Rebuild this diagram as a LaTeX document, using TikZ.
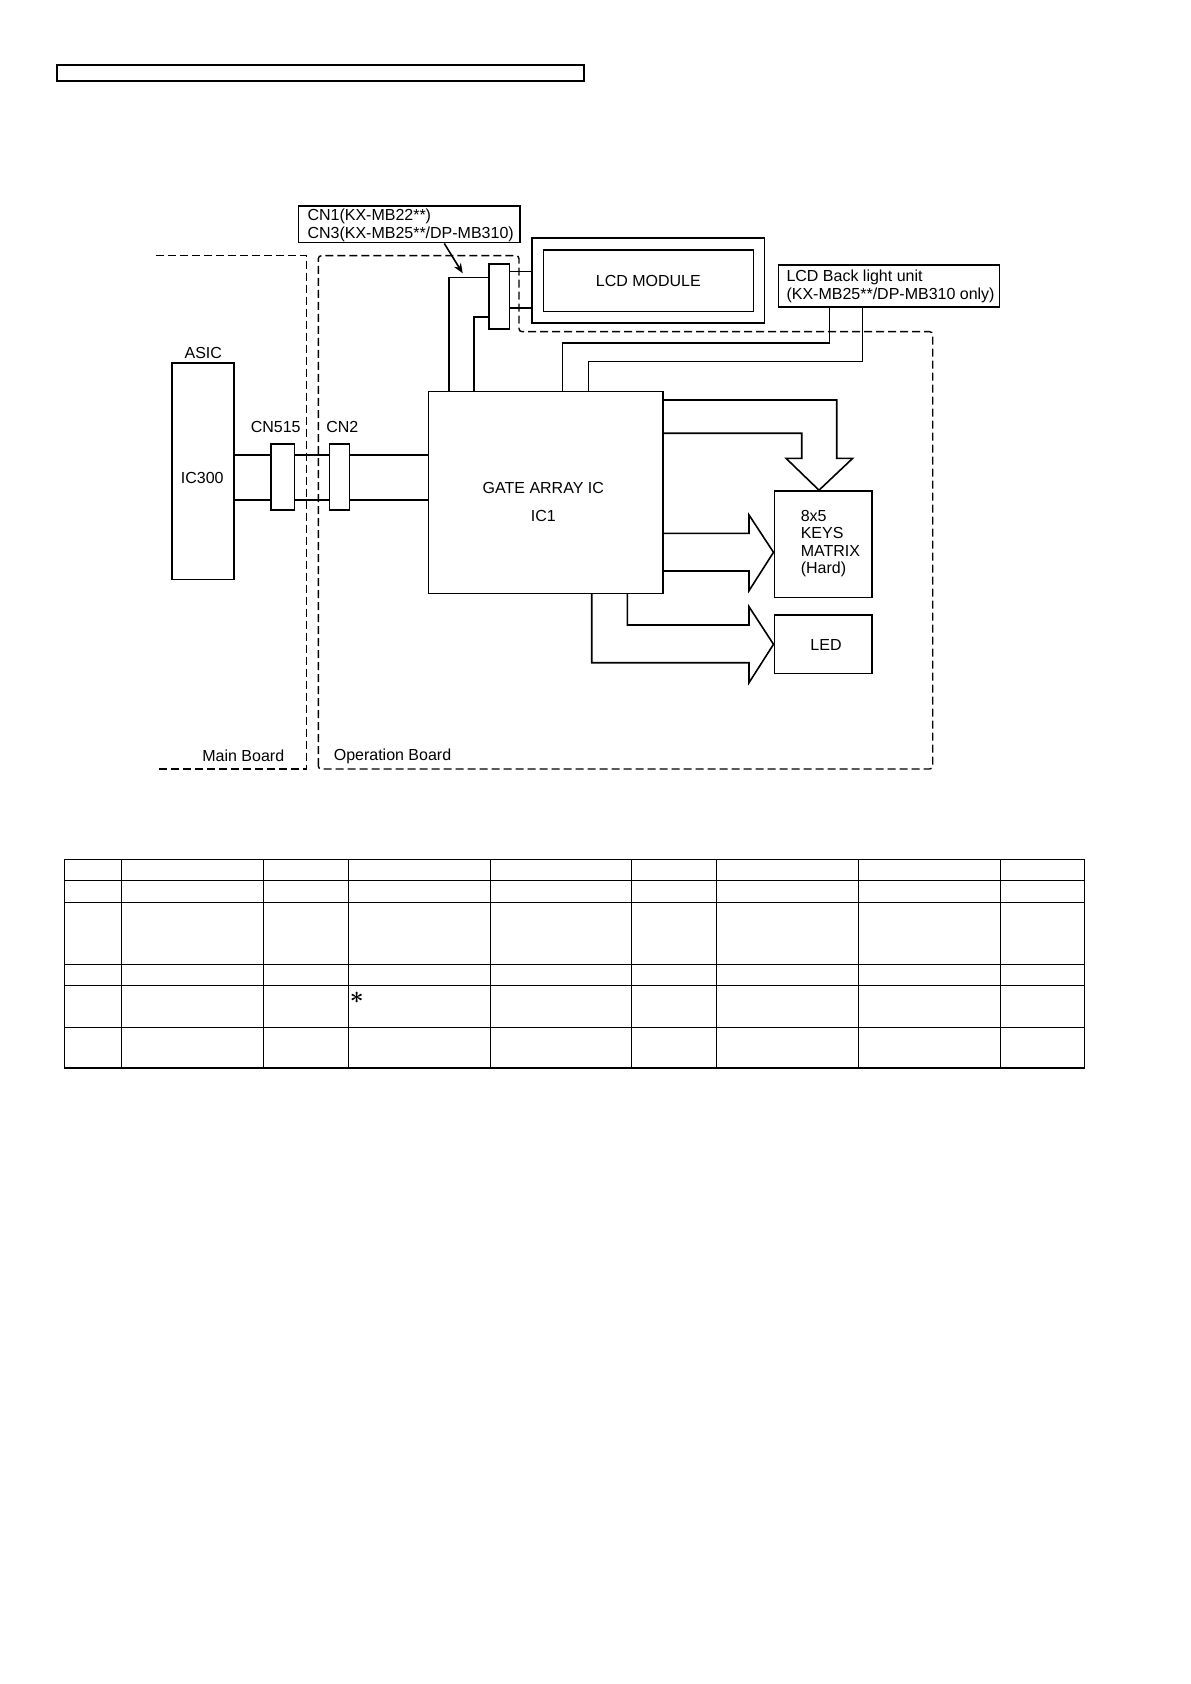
\documentclass[tikz,border=0pt]{standalone}
\usepackage{fontspec}
\setmainfont{Liberation Sans}
\usetikzlibrary{arrows.meta,fit}
\begin{document}
\begin{tikzpicture}[x=0.5pt,y=-0.5pt,line width=0.8pt,
  lbl/.style={font=\fontsize{8}{8.7}\selectfont, inner sep=0pt},
  bx/.style={draw, inner sep=0pt},
  brd/.style={line width=0.7pt, dash pattern=on 4pt off 2pt},
  tbl/.style={line width=0.7pt}]
\useasboundingbox (0,0) rectangle (1190,1684);

\node[bx, fit={(57,65) (584,81)}] (topbar) {};

% boards
\draw[brd] (155.7,255.7) -- (306.7,255.7) -- (306.7,769) -- (155.7,769);
\draw[brd, rounded corners=1.5pt] (318.3,769) -- (318.3,255.7) -- (519,255.7) -- (519,331.7) -- (932.7,331.7) -- (932.7,769) -- cycle;
\node[lbl, anchor=east] (mainlbl) at (285,756) {Main Board};
\node[lbl, anchor=west] (oplbl) at (333,756) {Operation Board};

% ASIC
\node[bx, fit={(171.7,363.3) (234,579.3)}] (asic) {};
\node[lbl] (asictitle) at (203.3,353.3) {ASIC};
\node[lbl] (ic300) at (202.3,477.7) {IC300};

% Gate array
\node[bx, fit={(428.3,391.7) (662.7,593.3)}] (ga) {};
\node[lbl] (gat) at (543.3,488.3) {GATE ARRAY IC};
\node[lbl] (ic1) at (543.3,516) {IC1};

% ASIC to gate array
\draw (asic.east |- 0,455) -- (ga.west |- 0,455);
\draw (asic.east |- 0,500) -- (ga.west |- 0,500);
\node[bx, fill=white, fit={(270.7,444.3) (294.3,510)}] (cn515) {};
\node[bx, fill=white, fit={(329.3,444.3) (349.3,510)}] (cn2) {};
\node[lbl] (cn515l) at (275.7,427.3) {CN515};
\node[lbl] (cn2l) at (342.3,427.3) {CN2};

% CN1/CN3 connector and LCD
\node[bx, fit={(489,264) (509.3,329.3)}] (cn13) {};
\draw (ga.north -| 449,0) |- (cn13.west |- 0,277.7);
\draw (ga.north -| 474,0) |- (cn13.west |- 0,317.3);
\node[bx, fit={(531.7,238.3) (764.3,323.3)}] (lcdout) {};
\node[bx, lbl, fit={(543.3,250) (753.3,311.7)}] (lcdin) {};
\node[lbl] (lcdtxt) at (lcdin.center) {LCD MODULE};
\draw (cn13.east |- 0,271.7) -- (lcdout.west |- 0,271.7);
\draw (cn13.east |- 0,308.3) -- (lcdout.west |- 0,308.3);

\node[bx, fit={(298.3,206) (520,242.7)}] (cnlbl) {};
\node[lbl, align=left, anchor=west] (cnlbltxt) at (306.7,225.5) {CN1(KX-MB22**)\\CN3(KX-MB25**/DP-MB310)};
\coordinate (cnptr) at (462.7,273.3);
\draw[-{Stealth[length=5pt,width=4pt]}] (cnlbl.south -| 444.3,0) -- (cnptr);

% Backlight
\node[bx, fit={(778.3,265) (999.3,307.3)}] (bl) {};
\node[lbl, align=left, anchor=west] (bltxt) at (785.7,286.5) {LCD Back light unit\\(KX-MB25**/DP-MB310 only)};
\draw (bl.south -| 829.3,0) -- ++(0,35) -| (ga.north -| 562.3,0);
\draw (bl.south -| 862.3,0) -- ++(0,53.4) -| (ga.north -| 588.3,0);

% Keys and LED
\node[bx, fit={(774.3,491) (871.7,597.3)}] (keys) {};
\node[lbl, anchor=west, align=left] (keyst) at (800,543.6) {8x5\\KEYS\\MATRIX\\(Hard)};
\node[bx, fit={(774.3,615) (871.7,673.3)}] (led) {};
\node[lbl] (ledtxt) at (826,645) {LED};

% block arrows
\draw (ga.east |- 0,400) -- (836.7,400) -- (836.7,458.3) -- (852.7,458.3) -- (keys.north -| 819,0) -- (786,458.3) -- (801.7,458.3) -- (801.7,433.3) -- (ga.east |- 0,433.3);
\draw (ga.east |- 0,533.3) -- (749,533.3) -- (749,515) -- (keys.west |- 0,552.3) -- (749,590.7) -- (749,571) -- (ga.east |- 0,571);
\draw (ga.south -| 627.3,0) -- (627.3,625) -- (749,625) -- (749,606.7) -- (led.west |- 0,644.3) -- (749,682.7) -- (749,662.7) -- (591.7,662.7) -- (ga.south -| 591.7,0);

% table
\draw[tbl] (64.4,859.2) rectangle (1084.7,1068);
\foreach \y in {880.7,902.2,964.5,985.3,1027.5} \draw[tbl] (64.4,\y) -- (1084.7,\y);
\foreach \x in {121.4,263.2,348.2,490.5,631.5,716.5,858.3,1000.2} \draw[tbl] (\x,859.2) -- (\x,1068);
\node[font=\fontsize{13}{13}\selectfont\boldmath, inner sep=0pt] (star) at (356.7,997.7) {$\ast$};
\end{tikzpicture}
\end{document}
